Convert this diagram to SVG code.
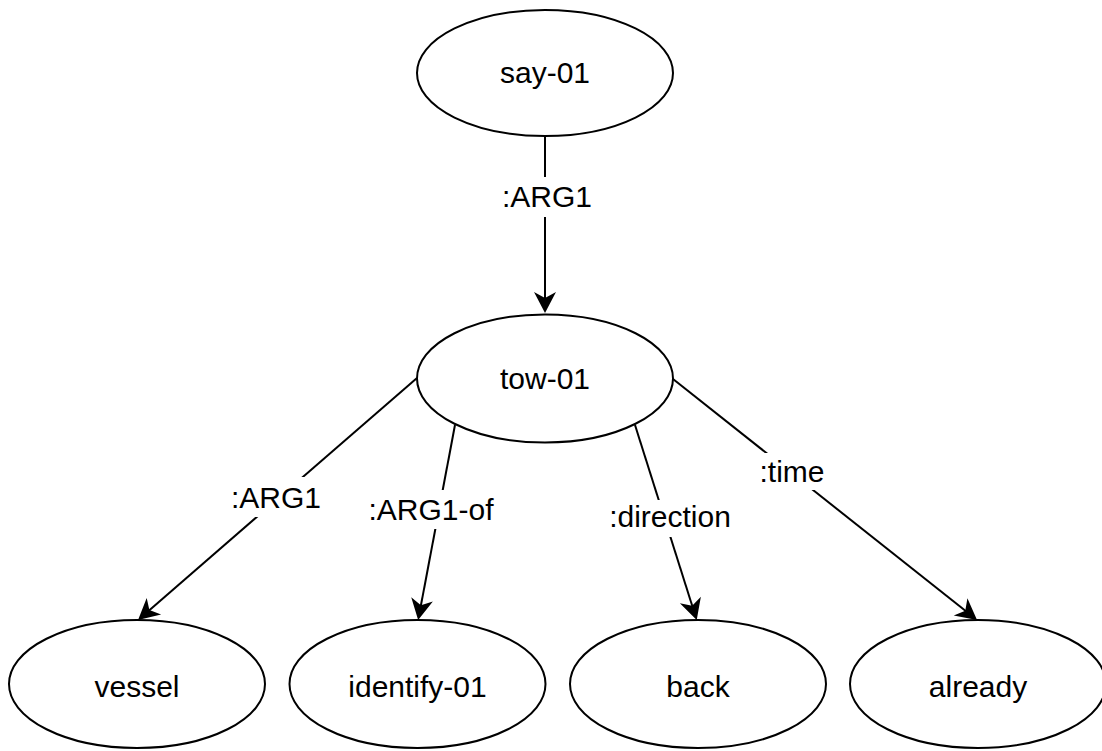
<svg xmlns="http://www.w3.org/2000/svg" width="1102" height="751" viewBox="0 0 1102 751">
<style>
.node{fill:#fff;stroke:#000;stroke-width:2}
.lbl{font-family:"Liberation Sans",Arial,Helvetica,sans-serif;font-size:30px;fill:#000;text-anchor:middle}
.edge{stroke:#000;stroke-width:2;fill:none;marker-end:url(#arr)}
.bg{fill:#fff;stroke:none}
</style>
<defs>
<marker id="arr" markerUnits="userSpaceOnUse" viewBox="-12 -12 24 24" refX="0" refY="0" markerWidth="24" markerHeight="24" orient="auto">
<path d="M10,0 L-11,-11 L-5,0 L-11,11 Z" fill="#000"/>
</marker>
</defs>
<rect width="1102" height="751" fill="#fff"/>
<g id="connectors">
<g id="e1"><path class="edge" d="M545,136 L545,303"/><rect class="bg" x="501" y="177" width="92" height="40"/><text class="lbl" x="547" y="207">:ARG1</text></g>
<g id="e2"><path class="edge" d="M417,378 L145.6,613.4"/><rect class="bg" x="229" y="477" width="95" height="40"/><text class="lbl" x="276" y="508">:ARG1</text></g>
<g id="e3"><path class="edge" d="M455,425 L420,610.2"/><rect class="bg" x="366" y="490" width="131" height="39"/><text class="lbl" x="431" y="520">:ARG1-of</text></g>
<g id="e4"><path class="edge" d="M635,425 L693.7,610.5"/><rect class="bg" x="606" y="500" width="128" height="37"/><text class="lbl" x="670" y="527">:direction</text></g>
<g id="e5"><path class="edge" d="M673,379 L969.2,613.8"/><rect class="bg" x="756" y="453" width="72" height="37"/><text class="lbl" x="792" y="482">:time</text></g>
</g>
<g id="n-say01"><ellipse class="node" cx="545" cy="73" rx="128" ry="63"/><text class="lbl" x="545" y="83">say-01</text></g>
<g id="n-tow01"><ellipse class="node" cx="545" cy="378.5" rx="128" ry="64"/><text class="lbl" x="545" y="389">tow-01</text></g>
<g id="n-vessel"><ellipse class="node" cx="137" cy="684" rx="128" ry="64"/><text class="lbl" x="137" y="697">vessel</text></g>
<g id="n-identify01"><ellipse class="node" cx="417.5" cy="684" rx="128" ry="64"/><text class="lbl" x="417.5" y="697">identify-01</text></g>
<g id="n-back"><ellipse class="node" cx="698" cy="684" rx="128" ry="64"/><text class="lbl" x="698" y="697">back</text></g>
<g id="n-already"><ellipse class="node" cx="978" cy="684" rx="128" ry="64"/><text class="lbl" x="978" y="697">already</text></g>
</svg>
